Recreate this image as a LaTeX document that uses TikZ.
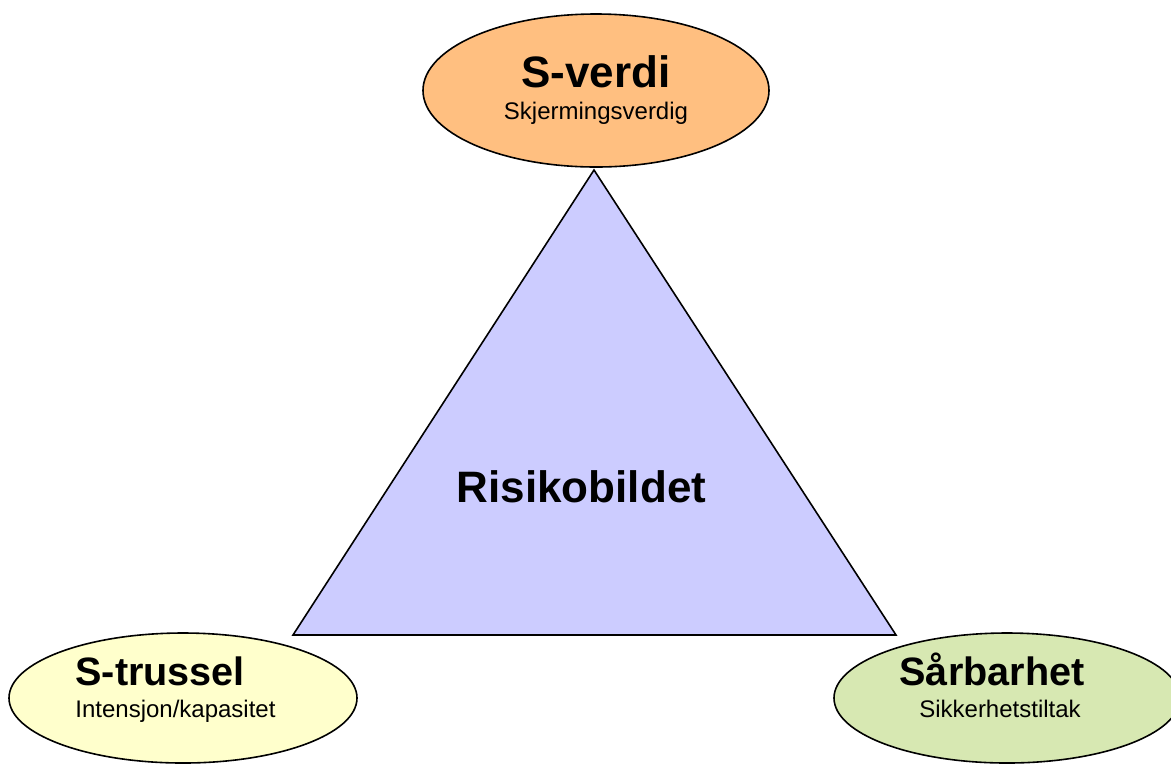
\documentclass[tikz,border=0pt]{standalone}
\usepackage{fontspec}
\setmainfont{Liberation Sans}
\usepackage{tikz}
\usetikzlibrary{shapes.geometric, arrows}
\definecolor{verdiOrange}{RGB}{255,191,128}
\definecolor{trusselYellow}{RGB}{255,255,204}
\definecolor{sarGreen}{RGB}{215,232,178}
\definecolor{risikoBlue}{RGB}{204,204,255}
\tikzstyle{oval} = [ellipse, draw=black, line width=0.8pt, inner sep=0pt]
\tikzstyle{bigTxt} = [font=\fontsize{22}{26}\selectfont\bfseries, anchor=base, inner sep=0pt]
\tikzstyle{midTxt} = [font=\fontsize{19.8}{24}\selectfont\bfseries, anchor=base, inner sep=0pt]
\tikzstyle{smallTxt} = [font=\fontsize{12}{14}\selectfont, anchor=base, inner sep=0pt]

\begin{document}
\begin{tikzpicture}[x=0.5pt, y=-0.5pt]
		\clip (0,0) rectangle (1171,767);
		\coordinate (apex) at (594,170);
		\coordinate (cornerL) at (293,635);
		\coordinate (cornerR) at (896,635);
		\filldraw [fill=risikoBlue, line width=0.8pt] (apex) -- (cornerL) -- (cornerR) -- cycle;
		\node (verdi) [oval, fill=verdiOrange, minimum width=173pt, minimum height=76.5pt] at (596,90.5) {};
		\node (trussel) [oval, fill=trusselYellow, minimum width=174pt, minimum height=65pt] at (183,698) {};
		\node (sar) [oval, fill=sarGreen, minimum width=173pt, minimum height=65pt] at (1007,698) {};
		\node (verdiTxt) [bigTxt] at (596,87) {S-verdi};
		\node (verdiSub) [smallTxt] at (596,119) {Skjermingsverdig};
		\node (trusselTxt) [midTxt, anchor=base west] at (75,685) {S-trussel};
		\node (trusselSub) [smallTxt, anchor=base west] at (75,717) {Intensjon/kapasitet};
		\node (sarTxt) [midTxt] at (992,685) {Sårbarhet};
		\node (sarSub) [smallTxt] at (1000,717) {Sikkerhetstiltak};
		\node (risiko) [bigTxt] at (581.5,502) {Risikobildet};
	\end{tikzpicture}
\end{document}
